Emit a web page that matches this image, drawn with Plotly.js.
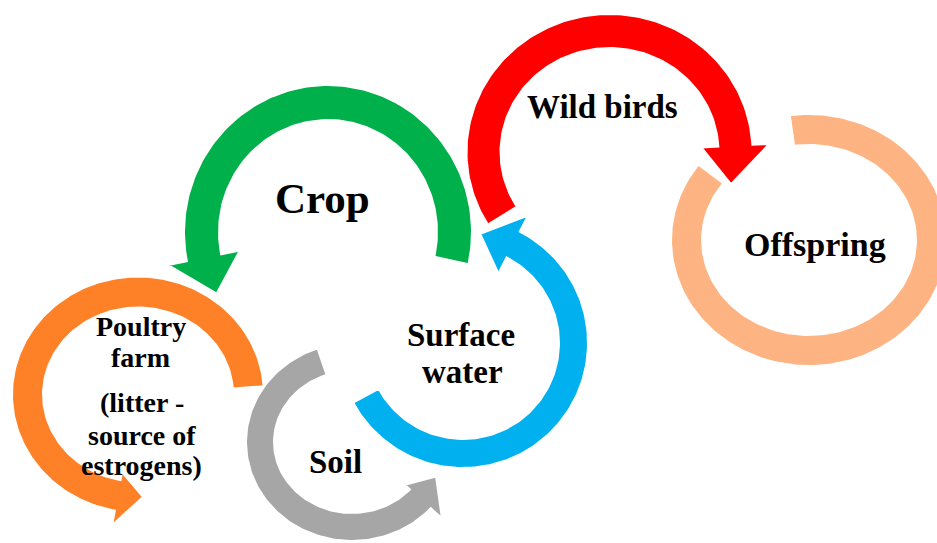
<!DOCTYPE html>
<html>
<head>
<meta charset="utf-8">
<script src="https://cdn.plot.ly/plotly-3.0.1.min.js"></script>
<style>html,body{margin:0;padding:0;background:#fff;}#chart{width:937px;height:543px;}</style>
</head>
<body>
<div id="chart"></div>
<script>
// ---- data: one circular arrow per stage (pixel space of the diagram) ----
var stages     = ["Offspring", "Poultry farm", "Wild birds", "Crop", "Soil", "Surface water"];
var colors     = ["#FDB382", "#FE8128", "#FF0000", "#00B04A", "#A6A6A6", "#00B0EF"];
var centerX    = [809, 138, 609.5, 328, 352, 463];
var centerY    = [240, 394.5, 152, 232, 442, 343];
var radiusX    = [137, 125, 142, 143, 105, 124];
var radiusY    = [125, 117, 137, 146, 98, 124];
var thickness  = [29, 29, 32, 33, 26, 27];
var startAngle = [-98, -4, 148.3, 12.7, -109, 151.5];
var endAngle   = [216.7, -259.4, 357, -191.5, -318, -63];
var tipAngle   = [null, -272.6, 375.4, -208.4, -336, -81];
var headIn     = [0, 8, 17, 19, 7, 18];
var headOut    = [0, 15, 17, 19, 15, 18];

// ---- labels ----
var labelText  = ["Crop", "Wild birds", "Offspring", "Surface", "water", "Soil",
                  "Poultry", "farm", "(litter -", "source of", "estrogens)"];
var labelX     = [322.5, 602.5, 814.5, 460.5, 462, 335, 141, 140.5, 141.5, 142, 141];
var labelY     = [198, 107, 244.5, 334.5, 372, 461.5, 326, 357, 402, 435.5, 465.5];
var labelSize  = [43, 33, 34, 33, 33, 33, 28, 28, 28, 28, 28];

var OUTLINE = 2;            // white outline width around each shape
var PAD = OUTLINE / 2;      // outline covers half its width inside the fill

function pt(i, off, deg) {
  var t = deg * Math.PI / 180;
  return [centerX[i] + (radiusX[i] + off) * Math.cos(t),
          centerY[i] + (radiusY[i] + off) * Math.sin(t)];
}

function arrowPolygon(i) {
  var xs = [], ys = [];
  var a0 = startAngle[i], a1 = endAngle[i];
  var n = Math.max(2, Math.ceil(Math.abs(a1 - a0) / 1.5));
  var k, p, a;
  for (k = 0; k <= n; k++) {
    a = a0 + (a1 - a0) * k / n;
    p = pt(i, PAD, a); xs.push(p[0]); ys.push(p[1]);
  }
  if (tipAngle[i] !== null) {
    p = pt(i, headOut[i] + PAD, a1); xs.push(p[0]); ys.push(p[1]);
    p = pt(i, -thickness[i] / 2, tipAngle[i]); xs.push(p[0]); ys.push(p[1]);
    p = pt(i, -thickness[i] - headIn[i] - PAD, a1); xs.push(p[0]); ys.push(p[1]);
  }
  for (k = n; k >= 0; k--) {
    a = a0 + (a1 - a0) * k / n;
    p = pt(i, -thickness[i] - PAD, a); xs.push(p[0]); ys.push(p[1]);
  }
  xs.push(xs[0]); ys.push(ys[0]);
  return {x: xs, y: ys};
}

var traces = [];
for (var i = 0; i < stages.length; i++) {
  var poly = arrowPolygon(i);
  traces.push({
    type: "scatter", mode: "lines", x: poly.x, y: poly.y,
    fill: "toself", fillcolor: colors[i],
    line: {color: "#ffffff", width: OUTLINE},
    name: stages[i], hoverinfo: "skip"
  });
}

var annotations = labelText.map(function (t, j) {
  return {
    x: labelX[j], y: labelY[j], xref: "x", yref: "y",
    text: "<b>" + t + "</b>", showarrow: false,
    xanchor: "center", yanchor: "middle",
    font: {family: "Liberation Serif, serif", size: labelSize[j], color: "#000000"}
  };
});

var layout = {
  width: 937, height: 543,
  margin: {l: 0, r: 0, t: 0, b: 0, pad: 0},
  paper_bgcolor: "#ffffff", plot_bgcolor: "#ffffff",
  showlegend: false, hovermode: false,
  xaxis: {range: [0, 937], visible: false, fixedrange: true},
  yaxis: {range: [543, 0], visible: false, fixedrange: true},
  annotations: annotations
};

Plotly.newPlot("chart", traces, layout, {displayModeBar: false, staticPlot: true});
</script>
</body>
</html>
